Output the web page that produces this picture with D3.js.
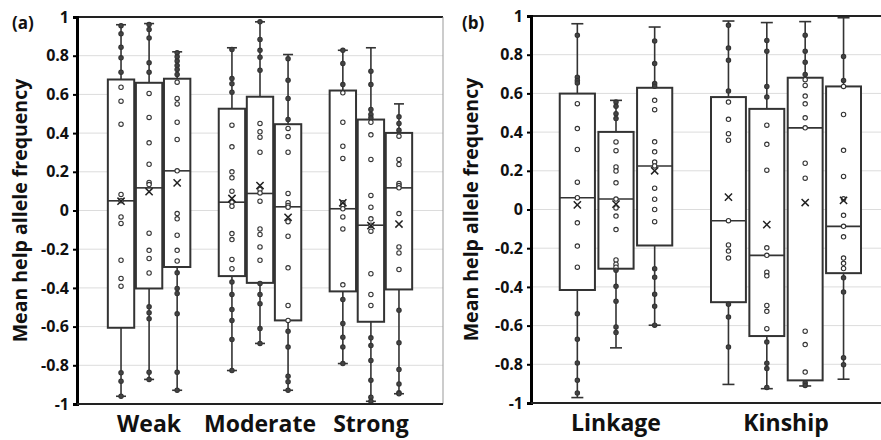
<!DOCTYPE html>
<html>
<head>
<meta charset="utf-8">
<script src="https://cdn.jsdelivr.net/npm/d3@7"></script>
<style>
  body { margin: 0; background: #fff; }
  text { font-family: "Open Sans", sans-serif; font-weight: bold; fill: #111; }
</style>
</head>
<body>
<svg width="881" height="440"></svg>
<script>
// panel (a)
var groupsA = ["Weak", "Moderate", "Strong"];
var boxGroupA = ["Weak", "Weak", "Weak", "Moderate", "Moderate", "Moderate", "Strong", "Strong", "Strong"];
var lowA    = [-0.96, -0.873, -0.929, -0.827, -0.687, -0.929, -0.791, -0.986, -0.947];
var q1A     = [-0.606, -0.403, -0.292, -0.339, -0.374, -0.568, -0.418, -0.575, -0.408];
var medianA = [0.05, 0.117, 0.205, 0.043, 0.088, 0.019, 0.009, -0.076, 0.117];
var q3A     = [0.677, 0.66, 0.681, 0.526, 0.588, 0.446, 0.62, 0.47, 0.401];
var highA   = [0.96, 0.966, 0.82, 0.841, 0.975, 0.806, 0.828, 0.841, 0.551];
var meanA   = [0.048, 0.097, 0.143, 0.062, 0.129, -0.035, 0.04, -0.078, -0.07];
var pointsA = [
  [0.955, 0.913, 0.844, 0.789, 0.715, 0.637, 0.565, 0.446, 0.083, 0.05, -0.033, -0.067, -0.257, -0.351, -0.391, -0.839, -0.882, -0.96],
  [0.961, 0.935, 0.892, 0.763, 0.715, 0.605, 0.481, 0.35, 0.239, 0.145, 0.134, -0.117, -0.206, -0.248, -0.323, -0.498, -0.529, -0.56, -0.836, -0.873],
  [0.815, 0.794, 0.772, 0.749, 0.729, 0.703, 0.663, 0.579, 0.551, 0.456, 0.367, 0.205, -0.016, -0.043, -0.128, -0.206, -0.261, -0.322, -0.403, -0.429, -0.534, -0.836, -0.929],
  [0.832, 0.682, 0.655, 0.611, 0.441, 0.329, 0.2, 0.169, 0.1, 0.043, 0.022, -0.119, -0.15, -0.253, -0.301, -0.37, -0.434, -0.512, -0.568, -0.667, -0.827],
  [0.975, 0.884, 0.828, 0.792, 0.725, 0.45, 0.407, 0.379, 0.301, 0.109, 0.091, 0.048, -0.095, -0.124, -0.188, -0.257, -0.377, -0.434, -0.482, -0.61, -0.687],
  [0.784, 0.673, 0.579, 0.47, 0.424, 0.382, 0.301, 0.088, 0.04, 0.026, 0.017, -0.058, -0.133, -0.296, -0.491, -0.568, -0.624, -0.706, -0.856, -0.885, -0.929],
  [0.828, 0.76, 0.651, 0.608, 0.456, 0.332, 0.269, 0.04, 0.027, 0.009, -0.033, -0.095, -0.384, -0.46, -0.584, -0.655, -0.705, -0.791],
  [0.72, 0.651, 0.522, 0.496, 0.479, 0.456, 0.391, 0.264, 0.078, 0.017, -0.043, -0.076, -0.107, -0.327, -0.434, -0.491, -0.658, -0.698, -0.775, -0.877, -0.965, -0.986],
  [0.484, 0.45, 0.415, 0.384, 0.264, 0.238, 0.14, 0.129, 0.117, -0.016, -0.188, -0.219, -0.305, -0.515, -0.684, -0.822, -0.896, -0.942, -0.947]
];

// panel (b)
var groupsB = ["Linkage", "Kinship"];
var boxGroupB = ["Linkage", "Linkage", "Linkage", "Kinship", "Kinship", "Kinship", "Kinship"];
var lowB    = [-0.972, -0.715, -0.598, -0.904, -0.926, -0.912, -0.877];
var q1B     = [-0.416, -0.306, -0.186, -0.479, -0.654, -0.883, -0.329];
var medianB = [0.061, 0.054, 0.225, -0.058, -0.237, 0.422, -0.087];
var q3B     = [0.599, 0.401, 0.629, 0.581, 0.52, 0.681, 0.636];
var highB   = [0.96, 0.564, 0.943, 0.974, 0.966, 0.971, 0.991];
var meanB   = [0.024, 0.028, 0.2, 0.064, -0.078, 0.036, 0.047];
var pointsB = [
  [0.9, 0.684, 0.667, 0.654, 0.547, 0.418, 0.31, 0.141, 0.061, -0.069, -0.189, -0.298, -0.539, -0.671, -0.793, -0.883, -0.948],
  [0.555, 0.533, 0.495, 0.47, 0.349, 0.304, 0.22, 0.199, 0.138, 0.054, 0.008, -0.034, -0.104, -0.261, -0.283, -0.298, -0.314, -0.397, -0.474, -0.607, -0.636],
  [0.871, 0.754, 0.651, 0.637, 0.564, 0.516, 0.35, 0.298, 0.245, 0.225, 0.11, 0.053, 0.0, -0.063, -0.306, -0.35, -0.438, -0.5, -0.598],
  [0.952, 0.834, 0.771, 0.613, 0.555, 0.466, 0.392, 0.358, -0.058, -0.183, -0.215, -0.251, -0.49, -0.556, -0.711],
  [0.874, 0.818, 0.636, 0.581, 0.436, 0.337, 0.203, -0.198, -0.237, -0.324, -0.343, -0.496, -0.526, -0.616, -0.685, -0.794, -0.822, -0.92],
  [0.901, 0.818, 0.761, 0.698, 0.671, 0.641, 0.586, 0.546, 0.474, 0.422, 0.239, 0.162, -0.629, -0.698, -0.84, -0.895, -0.909],
  [0.791, 0.667, 0.636, 0.491, 0.306, 0.171, 0.055, -0.03, -0.087, -0.141, -0.251, -0.278, -0.305, -0.353, -0.427, -0.766, -0.802]
];

var yTicks = [-1, -0.8, -0.6, -0.4, -0.2, 0, 0.2, 0.4, 0.6, 0.8, 1];
var yTitle = "Mean help allele frequency";

var svg = d3.select("svg");

function drawPanel(p) {
  var g = svg.append("g");

  var y = d3.scaleLinear().domain([-1, 1]).range([p.bottom, p.top]);
  var x = d3.scaleBand().domain(p.groups).range([p.left, p.plotRight]).paddingOuter(p.outer);

  // grid lines
  g.selectAll(".grid").data(yTicks.filter(function(d) { return d > -1 && d < 1; }))
    .enter().append("line")
    .attr("x1", p.left).attr("x2", p.right)
    .attr("y1", y).attr("y2", y)
    .attr("stroke", "#dcdcdc").attr("stroke-width", 1);

  // frame top and right
  g.append("line").attr("x1", p.left).attr("x2", p.right)
    .attr("y1", y(1)).attr("y2", y(1)).attr("stroke", "#222").attr("stroke-width", 2);
  if (p.rightBorder) {
    g.append("line").attr("x1", p.right).attr("x2", p.right)
      .attr("y1", y(1)).attr("y2", y(-1)).attr("stroke", "#999").attr("stroke-width", 1);
  }

  // boxes
  var slots = {};
  var boxes = p.boxGroup.map(function(grp, i) {
    slots[grp] = (slots[grp] || 0) + 1;
    return { grp: grp, slot: slots[grp] - 1, low: p.low[i], q1: p.q1[i], med: p.median[i],
             q3: p.q3[i], high: p.high[i], mean: p.mean[i], pts: p.points[i] };
  });
  boxes.forEach(function(b) {
    var n = slots[b.grp];
    var inner = d3.scaleBand().domain(d3.range(n))
      .range([-n * p.step / 2, n * p.step / 2]).paddingInner(p.gap);
    var cx = x(b.grp) + x.bandwidth() / 2 + inner(b.slot) + inner.bandwidth() / 2;
    var w = inner.bandwidth();
    var bg = g.append("g");

    bg.append("line").attr("x1", cx).attr("x2", cx)
      .attr("y1", y(b.high)).attr("y2", y(b.low))
      .attr("stroke", "#333").attr("stroke-width", 1.6);
    [b.high, b.low].forEach(function(v) {
      bg.append("line").attr("x1", cx - p.cap).attr("x2", cx + p.cap)
        .attr("y1", y(v)).attr("y2", y(v))
        .attr("stroke", "#333").attr("stroke-width", 1.6);
    });
    bg.append("rect").attr("x", cx - w / 2).attr("width", w)
      .attr("y", y(b.q3)).attr("height", y(b.q1) - y(b.q3))
      .attr("fill", "#fff").attr("stroke", "#333").attr("stroke-width", 2);
    bg.append("line").attr("x1", cx - w / 2).attr("x2", cx + w / 2)
      .attr("y1", y(b.med)).attr("y2", y(b.med))
      .attr("stroke", "#333").attr("stroke-width", 1.6);

    bg.selectAll("circle").data(b.pts).enter().append("circle")
      .attr("cx", cx).attr("cy", y).attr("r", 2.2)
      .attr("fill", function(d) { return (d > b.q3 || d < b.q1) ? "#444" : "#fff"; })
      .attr("stroke", "#333").attr("stroke-width", 1.1);

    var my = y(b.mean), s = 3.6;
    bg.append("path")
      .attr("d", "M" + (cx - s) + "," + (my - s) + "L" + (cx + s) + "," + (my + s) +
                 "M" + (cx - s) + "," + (my + s) + "L" + (cx + s) + "," + (my - s))
      .attr("stroke", "#222").attr("stroke-width", 1.5).attr("fill", "none");
  });

  // y axis
  var yAxis = d3.axisLeft(y).tickValues(yTicks).tickSize(4).tickPadding(4)
    .tickFormat(function(d) { return d3.format("")(+d.toFixed(1)).replace("\u2212", "-"); });
  var ya = g.append("g").attr("transform", "translate(" + p.left + ",0)").call(yAxis);
  ya.select(".domain").attr("stroke", "#000").attr("stroke-width", 3);
  ya.selectAll(".tick line").attr("stroke", "#000").attr("stroke-width", 2);
  ya.selectAll(".tick text").style("font-size", "16px").attr("fill", "#222");

  // x axis
  var xAxis = d3.axisBottom(x).tickSize(0).tickPadding(12);
  var xa = g.append("g").attr("transform", "translate(0," + p.bottom + ")").call(xAxis);
  xa.select(".domain").attr("d", "M" + p.left + ",0H" + p.right)
    .attr("stroke", "#222").attr("stroke-width", 2);
  xa.selectAll(".tick text").style("font-size", "23px").attr("fill", "#111");

  // titles
  g.append("text")
    .attr("transform", "translate(" + p.titleX + "," + ((p.top + p.bottom) / 2) + ") rotate(-90)")
    .attr("text-anchor", "middle").style("font-size", "19.5px")
    .text(yTitle);
  g.append("text").attr("x", p.tagX).attr("y", 29).style("font-size", "17px").text(p.tag);
}

drawPanel({
  groups: groupsA, boxGroup: boxGroupA, low: lowA, q1: q1A, median: medianA,
  q3: q3A, high: highA, mean: meanA, points: pointsA,
  left: 77, right: 443, plotRight: 443, top: 17, bottom: 404, outer: 0.15,
  step: 27.5, gap: 0.06, cap: 5, rightBorder: true,
  titleX: 27, tag: "(a)", tagX: 12
});

drawPanel({
  groups: groupsB, boxGroup: boxGroupB, low: lowB, q1: q1B, median: medianB,
  q3: q3B, high: highB, mean: meanB, points: pointsB,
  left: 531, right: 881, plotRight: 871, top: 16, bottom: 403, outer: 0,
  step: 37.5, gap: 0.09, cap: 6, rightBorder: false,
  titleX: 478, tag: "(b)", tagX: 462
});
</script>
</body>
</html>
